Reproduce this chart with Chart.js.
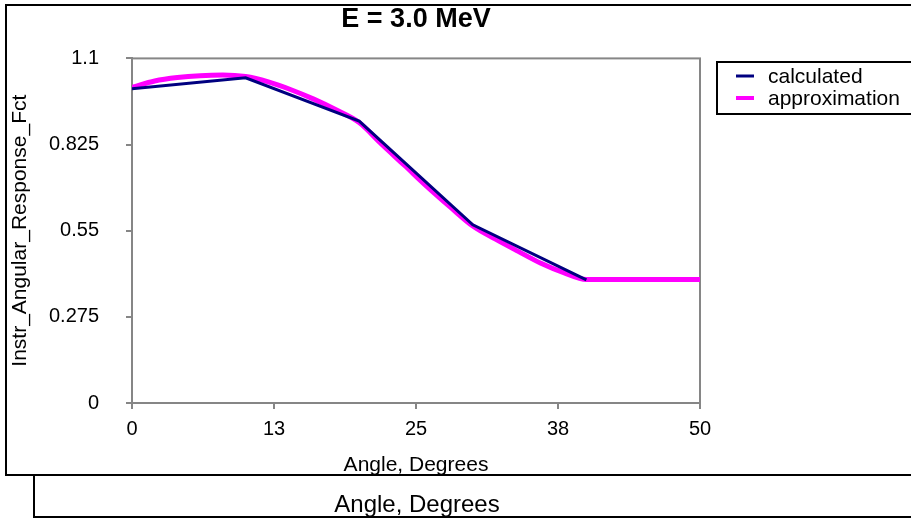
<!DOCTYPE html>
<html>
<head>
<meta charset="utf-8">
<script src="https://cdn.jsdelivr.net/npm/chart.js@4/dist/chart.umd.min.js"></script>
<style>
  body { margin: 0; background: #fff; }
  canvas { display: block; }
</style>
</head>
<body>
<canvas id="angChart" width="911" height="520"></canvas>
<script>
// angles in degrees
let calcAngles = [0, 10, 20, 30, 40];
let calcValues = [1.003, 1.038, 0.900, 0.569, 0.393];

let approxAngles = [0, 2, 4, 6, 8, 10, 12, 14, 16, 18, 20, 22, 24, 26, 28, 30, 32, 34, 36, 38, 40, 42, 44, 46, 48, 50];
let approxValues = [1.008, 1.028, 1.039, 1.045, 1.047, 1.042, 1.025, 1.000, 0.970, 0.935, 0.895, 0.825, 0.758, 0.690, 0.626, 0.565, 0.523, 0.484, 0.446, 0.416, 0.394, 0.394, 0.394, 0.394, 0.394, 0.394];

let xTickLabels = ['0', '13', '25', '38', '50'];
let yTickLabels = ['0', '0.275', '0.55', '0.825', '1.1'];

const FONT = "'Liberation Sans', Arial, sans-serif";
const GRAY = '#868686';

function toPoints(xs, ys) {
    return xs.map((x, i) => ({ x: x, y: ys[i] }));
}

// box round the plot, outer frames, legend and the lower label
const framePlugin = {
    id: 'frames',
    beforeDatasetsDraw(chart) {
        const a = chart.chartArea;
        const ctx = chart.ctx;
        ctx.save();
        ctx.strokeStyle = GRAY;
        ctx.lineWidth = 2;
        ctx.strokeRect(a.left, a.top, a.right - a.left, a.bottom - a.top);
        ctx.restore();
    },
    afterDraw(chart) {
        const ctx = chart.ctx;
        const ds = chart.data.datasets;
        ctx.save();
        ctx.strokeStyle = '#000';
        ctx.lineWidth = 2;
        ctx.strokeRect(6, 5, 960, 470);
        ctx.strokeRect(34, 475, 960, 42);

        ctx.fillStyle = '#000';
        ctx.font = '24px ' + FONT;
        ctx.textAlign = 'center';
        ctx.textBaseline = 'alphabetic';
        ctx.fillText('Angle, Degrees', 417, 512);

        // legend
        ctx.fillStyle = '#fff';
        ctx.fillRect(717, 62, 260, 52);
        ctx.strokeRect(717, 62, 260, 52);
        const rows = [76, 98];
        ctx.font = '21px ' + FONT;
        ctx.textAlign = 'left';
        ctx.textBaseline = 'alphabetic';
        ds.forEach((d, i) => {
            ctx.strokeStyle = d.borderColor;
            ctx.lineWidth = i === 0 ? 3 : 4;
            ctx.beginPath();
            ctx.moveTo(736, rows[i]);
            ctx.lineTo(754, rows[i]);
            ctx.stroke();
            ctx.fillStyle = '#000';
            ctx.fillText(d.label, 768, rows[i] + 7);
        });
        ctx.restore();
    }
};

const ctx = document.querySelector('#angChart').getContext('2d');

new Chart(ctx, {
    type: 'line',
    data: {
        datasets: [
            {
                label: 'calculated',
                data: toPoints(calcAngles, calcValues),
                borderColor: '#000080',
                backgroundColor: '#000080',
                borderWidth: 3,
                pointRadius: 0,
                tension: 0,
                fill: false
            },
            {
                label: 'approximation',
                data: toPoints(approxAngles, approxValues),
                borderColor: '#FF00FF',
                backgroundColor: '#FF00FF',
                borderWidth: 5,
                pointRadius: 0,
                cubicInterpolationMode: 'monotone',
                fill: false
            }
        ]
    },
    options: {
        responsive: false,
        animation: false,
        layout: {
            padding: { left: 0, top: 0, right: 211, bottom: 40 }
        },
        scales: {
            x: {
                type: 'linear',
                min: 0,
                max: 50,
                afterFit: (axis) => { axis.height = 77; },
                ticks: {
                    stepSize: 12.5,
                    padding: 8,
                    color: '#000',
                    font: { family: FONT, size: 20 },
                    callback: (v, i) => xTickLabels[i]
                },
                grid: {
                    drawOnChartArea: false,
                    drawTicks: true,
                    tickLength: 6,
                    color: GRAY,
                    lineWidth: 2
                },
                border: { color: GRAY, width: 2 },
                title: {
                    display: true,
                    text: 'Angle, Degrees',
                    color: '#000',
                    font: { family: FONT, size: 21 },
                    padding: { top: 0, bottom: 2 }
                }
            },
            y: {
                min: 0,
                max: 1.1,
                afterFit: (axis) => { axis.width = 132; },
                ticks: {
                    stepSize: 0.275,
                    padding: 27,
                    color: '#000',
                    font: { family: FONT, size: 20 },
                    callback: (v, i) => yTickLabels[i]
                },
                grid: {
                    drawOnChartArea: false,
                    drawTicks: true,
                    tickLength: 6,
                    color: GRAY,
                    lineWidth: 2
                },
                border: { color: GRAY, width: 2 },
                title: {
                    display: true,
                    text: 'Instr_Angular_Response_Fct',
                    color: '#000',
                    font: { family: FONT, size: 21 },
                    padding: { top: 8, bottom: 0 }
                }
            }
        },
        plugins: {
            legend: { display: false },
            tooltip: { enabled: false },
            title: {
                display: true,
                fullSize: false,
                text: 'E = 3.0 MeV',
                color: '#000',
                font: { family: FONT, size: 27, weight: 'bold' },
                padding: { top: 3, bottom: 23 }
            }
        }
    },
    plugins: [framePlugin]
});
</script>
</body>
</html>
